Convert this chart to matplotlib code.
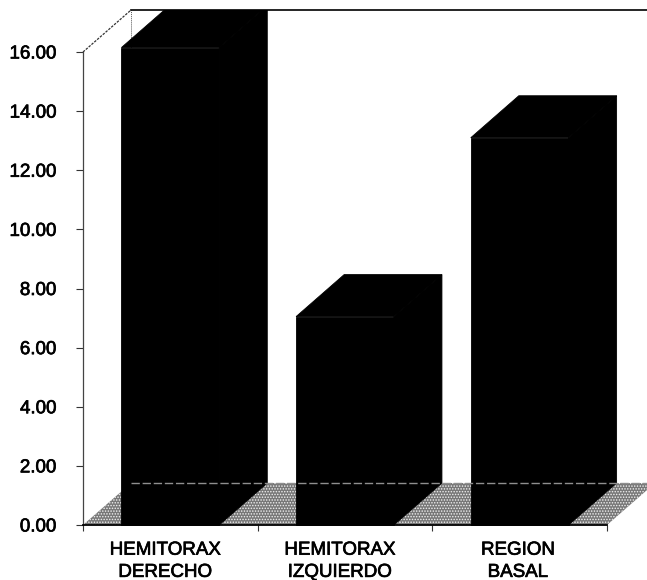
import matplotlib.pyplot as plt
import matplotlib.patheffects as pe
from matplotlib.patches import Polygon, Rectangle

plt.rcParams['font.family'] = ['Liberation Sans', 'DejaVu Sans']
plt.rcParams['hatch.linewidth'] = 0.7

categories = ['HEMITORAX\nDERECHO', 'HEMITORAX\nIZQUIERDO', 'REGION\nBASAL']
values = [16.15, 7.05, 13.1]
y_ticks = [0, 2, 4, 6, 8, 10, 12, 14, 16]

bar_width = 0.56
depth_x = 0.275
depth_y = 1.42
y_max = 16
n = len(categories)


def add_poly(ax, points, zorder, clip, **kwargs):
    poly = Polygon(points, closed=True, clip_on=True, zorder=zorder, **kwargs)
    ax.add_patch(poly)
    poly.set_clip_path(clip)
    return poly


fig = plt.figure(figsize=(6.47, 5.8), dpi=100)
ax = fig.add_axes([83 / 647, 55 / 580, 524 / 647, 473 / 580])
ax.set_xlim(0, n)
ax.set_ylim(0, y_max)

for name in ['top', 'right']:
    ax.spines[name].set_visible(False)
ax.spines['left'].set_color('#444444')
ax.spines['left'].set_linewidth(0.9)
ax.spines['left'].set_linestyle((0, (2, 1)))
ax.spines['bottom'].set_linewidth(1.3)

# everything above y_max belongs to the depth of the 3d box
clip_box = Rectangle((-1, -1), n + 3, y_max + depth_y + 1,
                     transform=ax.transData)

# floor
add_poly(ax, [(0, 0), (n, 0), (n + depth_x, depth_y), (depth_x, depth_y)], 1,
         clip=clip_box, facecolor='#777777', edgecolor='#f0f0f0', hatch='......',
         linewidth=0)

# back wall edges
ax.plot([0, depth_x], [y_max, y_max + depth_y], color='#333333', lw=0.9,
        ls=(0, (2, 1)), clip_on=False, zorder=2)
ax.plot([depth_x, depth_x], [depth_y, y_max + depth_y], color='#555555', lw=0.7,
        ls=(0, (1, 1)), clip_on=False, zorder=2)
ax.plot([depth_x, n + depth_x], [y_max + depth_y, y_max + depth_y], color='black',
        lw=1.2, clip_on=False, zorder=2)

for i, v in enumerate(values):
    x0 = i + 0.5 - bar_width / 2
    x1 = x0 + bar_width
    bars = ax.bar(i + 0.5, v, width=bar_width, color='black', edgecolor='black',
                  linewidth=0.6, zorder=3)
    for b in bars:
        b.set_clip_path(clip_box)
    # side face
    add_poly(ax, [(x1, 0), (x1 + depth_x, depth_y), (x1 + depth_x, v + depth_y), (x1, v)],
             3, clip_box, facecolor='black', edgecolor='black', linewidth=0.6)
    # top face, only the clipped one shows the lighter speckle
    add_poly(ax, [(x0, v), (x1, v), (x1 + depth_x, v + depth_y), (x0 + depth_x, v + depth_y)],
             3, clip_box, facecolor='black', edgecolor='black', linewidth=0.6)

# floor back edge shows through the bars
ax.plot([depth_x, n + depth_x], [depth_y, depth_y], color='#8f8f8f', lw=1.0,
        ls=(0, (6, 2)), clip_on=False, zorder=4)

thick = [pe.withStroke(linewidth=0.5, foreground='black')]

ax.set_yticks(y_ticks)
ax.set_yticklabels([f'{t:.2f}' for t in y_ticks], fontsize=13.5, path_effects=thick)
ax.tick_params(axis='y', length=5, width=0.8, pad=14, color='#333333')

ax.set_xticks(range(n + 1))
ax.set_xticklabels([])
ax.tick_params(axis='x', length=4, width=0.8, color='#333333')
ax.set_xticks([0.47, 1.47, 2.49], categories, minor=True, fontsize=13.5,
              linespacing=1.4, path_effects=thick)
ax.tick_params(axis='x', which='minor', length=0, pad=12)

fig.savefig('out.png', dpi=100)
